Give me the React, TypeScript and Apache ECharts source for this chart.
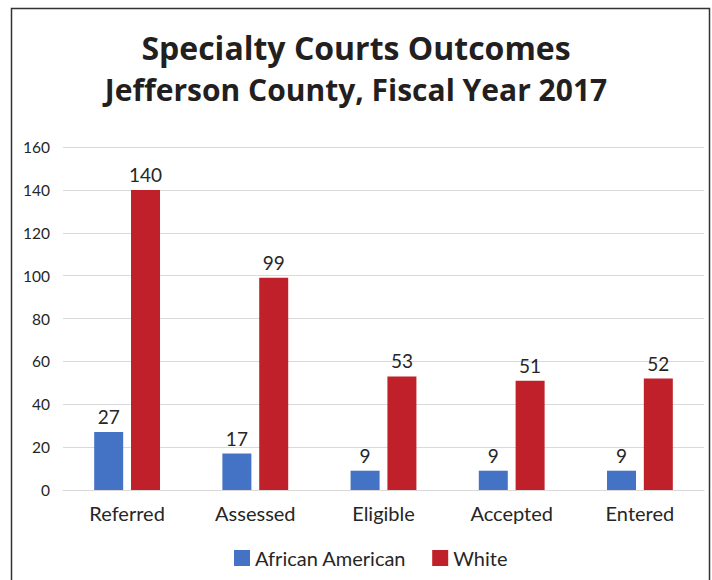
import React, { useEffect, useRef } from "react";
import * as echarts from "echarts";

const categories = ["Referred", "Assessed", "Eligible", "Accepted", "Entered"];
const africanAmerican = [27, 17, 9, 9, 9];
const white = [140, 99, 53, 51, 52];
const seriesNames = ["African American", "White"];
const titleLines = ["Specialty Courts Outcomes", "Jefferson County, Fiscal Year 2017"];

export default function App() {
  const ref = useRef<HTMLDivElement>(null);
  useEffect(() => {
    if (!ref.current) return;
    const chart = echarts.init(ref.current, null, { renderer: "svg" });
    const font = "Lato, 'Open Sans', sans-serif";
    const titleFont = "'Open Sans', sans-serif";
    chart.setOption({
      animation: false,
      backgroundColor: "#ffffff",
      textStyle: { fontFamily: font },
      title: {
        text: `{a|${titleLines[0]}}\n{b|${titleLines[1]}}`,
        left: "center",
        top: 21,
        textStyle: {
          rich: {
            a: { fontFamily: titleFont, fontWeight: "bold", fontSize: 32, lineHeight: 42, color: "#231f20", align: "center" },
            b: { fontFamily: titleFont, fontWeight: "bold", fontSize: 30, lineHeight: 42, color: "#231f20", align: "center" },
          },
        },
      },
      graphic: [
        {
          type: "rect",
          shape: { x: 11.5, y: 8.5, width: 698, height: 620 },
          style: { fill: "none", stroke: "#333333", lineWidth: 1.5 },
          silent: true,
        },
      ],
      legend: {
        data: seriesNames,
        bottom: 7,
        left: 229,
        itemWidth: 16,
        itemHeight: 16,
        itemGap: 26,
        icon: "rect",
        textStyle: { fontFamily: font, fontSize: 20, color: "#262626" },
      },
      grid: { left: 63, right: 8, top: 147, bottom: 90, containLabel: false },
      xAxis: {
        type: "category",
        data: categories,
        axisTick: { show: false },
        axisLine: { show: true, lineStyle: { color: "#d9d9d9" } },
        axisLabel: { fontFamily: font, fontSize: 20, color: "#262626", margin: 13 },
      },
      yAxis: {
        type: "value",
        min: 0,
        max: 160,
        interval: 20,
        axisLine: { show: false },
        axisTick: { show: false },
        splitLine: { lineStyle: { color: "#d9d9d9", width: 1 } },
        axisLabel: { fontFamily: font, fontSize: 15.5, color: "#262626", margin: 13 },
      },
      series: [
        {
          name: seriesNames[0],
          type: "bar",
          data: africanAmerican,
          barWidth: 29,
          barGap: "27%",
          itemStyle: { color: "#4472c4" },
          label: { show: true, position: "top", distance: 6, fontFamily: font, fontSize: 19, color: "#262626" },
        },
        {
          name: seriesNames[1],
          type: "bar",
          data: white,
          barWidth: 29,
          barGap: "27%",
          itemStyle: { color: "#c0202a" },
          label: { show: true, position: "top", distance: 6, fontFamily: font, fontSize: 19, color: "#262626" },
        },
      ],
    });
    return () => chart.dispose();
  }, []);
  return (
    <div
      ref={ref}
      style={{ position: "absolute", left: 0, top: 0, width: 712, height: 580 }}
    />
  );
}
